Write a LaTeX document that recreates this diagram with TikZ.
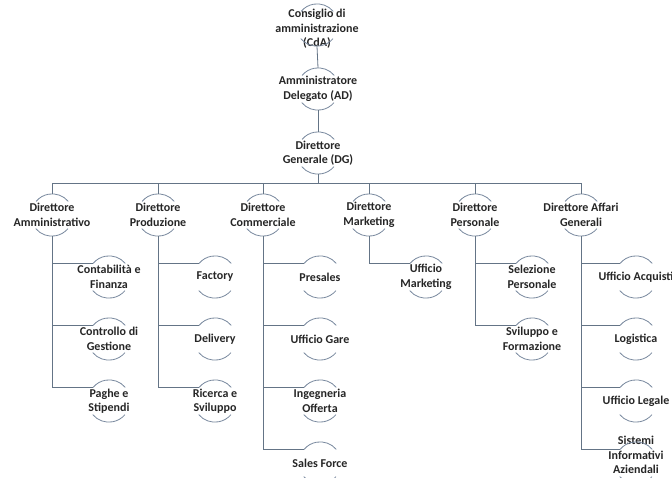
\documentclass[tikz,border=0pt]{standalone}
\usepackage{fontspec}
\setmainfont{Carlito}
\definecolor{connc}{RGB}{100,116,134}
\definecolor{arcc}{RGB}{120,136,158}
\tikzset{
  unit/.style={circle, minimum size=42pt, inner sep=0pt, draw=none},
  lbl/.style={align=center, font=\bfseries\fontsize{12}{14.5}\selectfont, text=black!85, inner sep=0pt},
  arcst/.style={draw=arcc, line width=0.8pt},
  connst/.style={draw=connc, line width=0.8pt},
}
\newcommand\orgunit[4][0]{%
  \node[unit] (#2) at (#3) {};
  \node[lbl] (#2t) at ([yshift=#1pt]#2.center) {#4};
  \draw[arcst] (#2.40) arc[start angle=40,end angle=140,radius=21pt];
  \draw[arcst] (#2.220) arc[start angle=220,end angle=320,radius=21pt];
}
\begin{document}
\begin{tikzpicture}[x=1pt,y=-1pt]
\useasboundingbox[fill=white] (0,0) rectangle (672,477);
% top chain
\orgunit[-4]{cda}{317,25}{Consiglio di\\amministrazione\\(CdA)}
\orgunit{ad}{318,89}{Amministratore\\Delegato (AD)}
\orgunit{dg}{318,153}{Direttore\\Generale (DG)}
\coordinate (bus) at (318,183);
% level 2
\orgunit{da}{52,215}{Direttore\\Amministrativo}
\orgunit{dp}{158,215}{Direttore\\Produzione}
\orgunit{dc}{263,215}{Direttore\\Commerciale}
\orgunit{dm}{369,215}{Direttore\\Marketing}
\orgunit{dpe}{475,215}{Direttore\\Personale}
\orgunit{dag}{581,215}{Direttore Affari\\Generali}
% children
\orgunit{a1}{109,277}{Contabilità e\\Finanza}
\orgunit{a2}{109,339}{Controllo di\\Gestione}
\orgunit{a3}{109,401}{Paghe e\\Stipendi}
\orgunit{p1}{215,277}{Factory}
\orgunit{p2}{215,339}{Delivery}
\orgunit{p3}{215,401}{Ricerca e\\Sviluppo}
\orgunit{c1}{320,277}{Presales}
\orgunit{c2}{320,339}{Ufficio Gare}
\orgunit{c3}{320,401}{Ingegneria\\Offerta}
\orgunit{c4}{320,463}{Sales Force}
\orgunit{m1}{426,277}{Ufficio\\Marketing}
\orgunit{pe1}{532,277}{Selezione\\Personale}
\orgunit{pe2}{532,339}{Sviluppo e\\Formazione}
\orgunit{g1}{636,277}{Ufficio Acquisti}
\orgunit{g2}{636,339}{Logistica}
\orgunit{g3}{636,401}{Ufficio Legale}
\orgunit[8]{g4}{636,463}{Sistemi\\Informativi\\Aziendali}
% connectors
\draw[connst] (cda.south) -- (ad.north);
\draw[connst] (ad.south) -- (dg.north);
\draw[connst] (dg.south) -- (bus);
\foreach \n in {da,dp,dc,dm,dpe,dag} \draw[connst] (\n.north) |- (bus);
\foreach \p/\c in {da/a1,da/a2,da/a3,dp/p1,dp/p2,dp/p3,dc/c1,dc/c2,dc/c3,dc/c4,dm/m1,dpe/pe1,dpe/pe2,dag/g1,dag/g2,dag/g3,dag/g4}
  \draw[connst] (\p.south) |- (\c.140);
\end{tikzpicture}
\end{document}
